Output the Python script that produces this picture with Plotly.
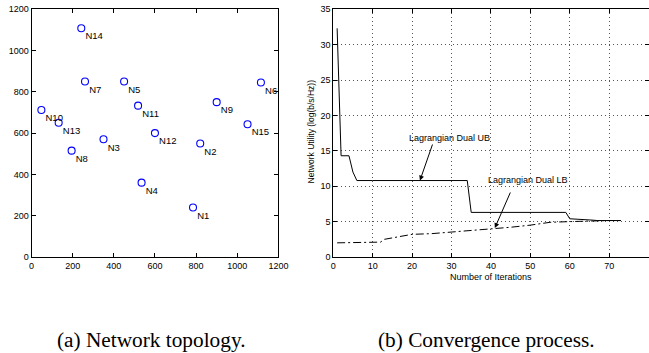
import plotly.graph_objects as go

W, H = 649, 353

# ---- data: network topology ----
node_names = ["N1", "N2", "N3", "N4", "N5", "N6", "N7", "N8", "N9", "N10",
              "N11", "N12", "N13", "N14", "N15"]
node_x = [785, 820, 350, 535, 450, 1115, 260, 195, 900, 48, 518, 600, 132, 242, 1050]
node_y = [240, 550, 570, 360, 850, 845, 850, 515, 750, 712, 733, 600, 650, 1108, 643]

# ---- data: convergence process ----
ub_iter = [1, 2, 3, 4, 5, 6, 10, 20, 30, 34, 35, 40, 50, 59, 60, 62, 64, 66, 67, 70, 73]
ub_val = [32.3, 14.3, 14.3, 14.3, 12.0, 10.8, 10.8, 10.8, 10.8, 10.8, 6.3, 6.3, 6.3, 6.3, 5.4,
          5.35, 5.35, 5.2, 5.15, 5.15, 5.15]
lb_iter = [1, 5, 11, 12, 13, 15, 20, 25, 30, 35, 40, 45, 50, 53, 55, 60, 65, 70, 73]
lb_val = [2.0, 2.0, 2.0, 2.1, 2.5, 2.7, 3.2, 3.3, 3.5, 3.7, 4.0, 4.2, 4.5, 4.7, 4.9, 5.0,
          5.1, 5.15, 5.15]

left_ticks = [0, 200, 400, 600, 800, 1000, 1200]
right_xticks = [0, 10, 20, 30, 40, 50, 60, 70, 80]
right_yticks = [0, 5, 10, 15, 20, 25, 30, 35]

SANS = "Liberation Sans, Arial, sans-serif"
SERIF = "Liberation Serif, Times New Roman, serif"
TICKFONT = dict(family=SANS, size=9, color="black")

fig = go.Figure()
# node markers
fig.add_trace(go.Scatter(
    x=node_x, y=node_y, mode="markers",
    marker=dict(symbol="circle-open", size=7, color="#0000ff", line=dict(width=1.1, color="#0000ff")),
    xaxis="x", yaxis="y", showlegend=False, cliponaxis=False, hoverinfo="skip"))
# node labels (invisible anchor so text sits just below-right of the node)
fig.add_trace(go.Scatter(
    x=node_x, y=node_y, mode="markers+text", text=node_names,
    textposition="bottom right",
    textfont=dict(family=SANS, size=9.5, color="black"),
    marker=dict(size=5, color="rgba(0,0,0,0)"),
    xaxis="x", yaxis="y", showlegend=False, cliponaxis=False))

fig.add_trace(go.Scatter(
    x=ub_iter, y=ub_val, mode="lines", line=dict(color="black", width=1),
    xaxis="x2", yaxis="y2", showlegend=False))
fig.add_trace(go.Scatter(
    x=lb_iter, y=lb_val, mode="lines", line=dict(color="black", width=1, dash="8px,3px,2px,3px"),
    xaxis="x2", yaxis="y2", showlegend=False))

x1d = [31.5 / W, 278.4 / W]
x2d = [333.2 / W, 648.6 / W]
yd = [(H - 257) / H, (H - 9.2) / H]

common = dict(showline=True, linecolor="black", linewidth=1, mirror="ticks",
              ticks="inside", ticklen=4, tickcolor="black", tickfont=TICKFONT,
              zeroline=False, automargin=False)
grid = dict(showgrid=True, gridcolor="#555555", griddash="1px,3px", gridwidth=1)

fig.update_layout(
    width=W, height=H, margin=dict(l=0, r=0, t=0, b=0, pad=0),
    paper_bgcolor="white", plot_bgcolor="white",
    xaxis=dict(domain=x1d, range=[0, 1200], tickvals=left_ticks, showgrid=False,
               anchor="y", **common),
    yaxis=dict(domain=yd, range=[0, 1200], tickvals=left_ticks, showgrid=False,
               anchor="x", **common),
    xaxis2=dict(domain=x2d, range=[0, 80], tickvals=right_xticks, anchor="y2", **grid, **common),
    yaxis2=dict(domain=yd, range=[0, 35], tickvals=right_yticks, anchor="x2", **grid, **common),
)

W2 = x2d[1] - x2d[0]
def px_x2(v):
    return (x2d[0] + (v / 80) * W2) * W
def px_y2(v):
    return H - (yd[0] + (v / 35) * (yd[1] - yd[0])) * H

def label(xpx, ypx, text, font, angle=0):
    fig.add_annotation(x=xpx / W, y=(H - ypx) / H, xref="paper", yref="paper",
                       xanchor="center", yanchor="middle", text=text, textangle=angle,
                       showarrow=False, font=font)

label(310.7, 131.7, "Network Utility (log(b/s/Hz))", dict(family=SANS, size=8.5, color="black"), -90)
label(490.5, 277, "Number of Iterations", dict(family=SANS, size=9, color="black"))

# arrows
fig.add_annotation(x=22, y=10.8, xref="x2", yref="y2",
                   ax=433 - px_x2(22), ay=143 - px_y2(10.8),
                   text="", showarrow=True, arrowhead=2, arrowsize=1, arrowwidth=1, arrowcolor="black")
fig.add_annotation(x=41, y=4.1, xref="x2", yref="y2",
                   ax=511 - px_x2(41), ay=191 - px_y2(4.1),
                   text="", showarrow=True, arrowhead=2, arrowsize=1, arrowwidth=1, arrowcolor="black")

label(449.5, 137.7, "Lagrangian Dual UB", dict(family=SANS, size=9, color="black"))
label(528, 180, "Lagrangian Dual LB", dict(family=SANS, size=9, color="black"))

label(151, 340, "(a) Network topology.", dict(family=SERIF, size=21.3, color="black"))
label(486, 340, "(b) Convergence process.", dict(family=SERIF, size=21.3, color="black"))

fig.write_html("out.html", config={"displayModeBar": False},
               post_script="document.body.style.margin='0';document.body.style.overflow='hidden';")
